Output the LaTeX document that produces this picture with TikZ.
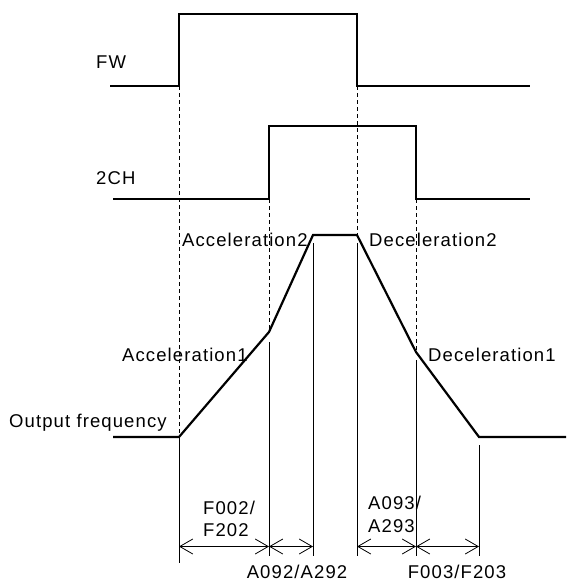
\documentclass[tikz,border=0pt]{standalone}
\usepackage{fontspec}
\setmainfont{Liberation Sans}[LetterSpace=6]
\usetikzlibrary{arrows.meta}
\begin{document}
\begin{tikzpicture}[x=1pt,y=-1pt,
  sig/.style={line width=2.2pt, line join=miter},
  guide/.style={line width=0.8pt, dash pattern=on 4pt off 3pt},
  ext/.style={line width=0.8pt},
  dimline/.style={line width=0.8pt, {Straight Barb[length=13pt,width=15pt]}-{Straight Barb[length=13pt,width=15pt]}},
  lbl/.style={font=\fontsize{18.5}{20}\selectfont, inner sep=0pt}]
\useasboundingbox (0,0) rectangle (566,581);

% key time instants
\coordinate (fwA) at (110,86);
\coordinate (fwB) at (179,86);
\coordinate (fwC) at (179,14);
\coordinate (fwD) at (357,14);
\coordinate (fwE) at (357,86);
\coordinate (fwF) at (530,86);

\coordinate (chA) at (113,199);
\coordinate (chB) at (269,199);
\coordinate (chC) at (269,126);
\coordinate (chD) at (416,126);
\coordinate (chE) at (416,199);
\coordinate (chF) at (530,199);

\coordinate (ofA) at (113,437);
\coordinate (ofB) at (179,437);
\coordinate (ofC) at (269,332);
\coordinate (ofD) at (313,235);
\coordinate (ofE) at (357,235);
\coordinate (ofF) at (416,352);
\coordinate (ofG) at (479,437);
\coordinate (ofH) at (566,437);

% signals
\draw[sig] (fwA) -- (fwB) -- (fwC) -- (fwD) -- (fwE) -- (fwF);
\draw[sig] (chA) -- (chB) -- (chC) -- (chD) -- (chE) -- (chF);
\draw[sig] (ofA) -- (ofB) -- (ofC) -- (ofD) -- (ofE) -- (ofF) -- (ofG) -- (ofH);

% dashed guides
\draw[guide] (fwB) -- (ofB);
\draw[guide] (chB) -- (ofC);
\draw[guide] (fwE) -- (ofE);
\draw[guide] (chE) -- (ofF);

% extension lines
\coordinate (e1t) at (179,437); \coordinate (e1b) at (179,563);
\coordinate (e2t) at (269,342); \coordinate (e2b) at (269,556);
\coordinate (e3t) at (313,243); \coordinate (e3b) at (313,556);
\coordinate (e4t) at (357,243); \coordinate (e4b) at (357,556);
\coordinate (e5t) at (416,360); \coordinate (e5b) at (416,556);
\coordinate (e6t) at (479,445); \coordinate (e6b) at (479,556);
\foreach \i in {1,...,6} \draw[ext] (e\i t) -- (e\i b);

% dimension arrows
\coordinate (d1) at (179,546.5);
\coordinate (d2) at (269,546.5);
\coordinate (d3) at (313,546.5);
\coordinate (d4) at (357,546.5);
\coordinate (d5) at (416,546.5);
\coordinate (d6) at (479,546.5);
\draw[dimline] (d1) -- (d2);
\draw[dimline] (d2) -- (d3);
\draw[dimline] (d4) -- (d5);
\draw[dimline] (d5) -- (d6);

% labels
\node[lbl, anchor=base west] (tfw) at (96,68.5) {FW};
\node[lbl, anchor=base west] (tch) at (96,184.5) {2CH};
\node[lbl, anchor=base west] (tof) at (9,427) {Output frequency};
\node[lbl, anchor=base west] (ta1) at (122,361.5) {Acceleration1};
\node[lbl, anchor=base west] (ta2) at (182,246.5) {Acceleration2};
\node[lbl, anchor=base west] (td2) at (369,246.5) {Deceleration2};
\node[lbl, anchor=base west] (td1) at (428,361.5) {Deceleration1};
\node[lbl, anchor=base west] (tf1) at (203,514.5) {F002/};
\node[lbl, anchor=base west] (tf2) at (203,536.5) {F202};
\node[lbl, anchor=base west] (ta3) at (368,509.5) {A093/};
\node[lbl, anchor=base west] (ta4) at (368,532.5) {A293};
\node[lbl, anchor=base] (ta5) at (297,578.5) {A092/A292};
\node[lbl, anchor=base] (tf3) at (457,578.5) {F003/F203};
\end{tikzpicture}
\end{document}
